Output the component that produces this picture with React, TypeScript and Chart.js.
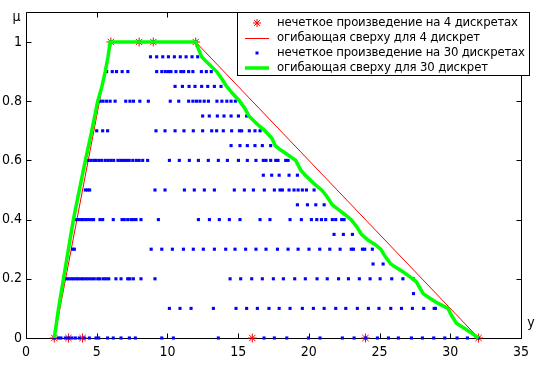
import React, { useEffect, useRef } from "react";
import { Chart, registerables } from "chart.js";

Chart.register(...registerables);

// ---- axes ----
const xTicks = [0, 5, 10, 15, 20, 25, 30, 35];
const yTicks = [0, 0.2, 0.4, 0.6, 0.8, 1];
const yTickLabels = ["0", "0.2", "0.4", "0.6", "0.8", "1"];
const xMin = 0;
const xMax = 35;
const yMin = 0;
const yMax = 1.1;
const yAxisTitle = "μ";
const xAxisTitle = "y";

// ---- legend labels ----
const legendLabels = [
  "нечеткое произведение на 4 дискретах",
  "огибающая сверху для 4 дискрет",
  "нечеткое произведение на 30 дискретах",
  "огибающая сверху для 30 дискрет",
];

// ---- fuzzy product on 4 points (red asterisks) ----
const prod4X = [2, 3, 4, 16, 24, 32, 6, 8, 9, 12];
const prod4Mu = [0, 0, 0, 0, 0, 0, 1, 1, 1, 1];

// ---- upper envelope for 4 points (red line) ----
const env4X = [2, 6, 12, 32];
const env4Mu = [0, 1, 1, 0];

// ---- fuzzy product on 30 points (blue dots), x positions per mu level ----
const dotsMu000 = [2.0, 2.29, 2.47, 2.78, 3.02, 3.25, 3.49, 3.77, 4.12, 4.48, 4.95, 5.14, 5.77, 6.17, 6.72, 7.31, 7.73, 9.6, 10.42, 13.6, 16.83, 17.56, 18.44, 19.97, 20.79, 22.37, 23.2, 24.02, 24.85, 25.63, 26.33, 27.25, 28.03, 28.83, 29.61, 30.48, 31.21, 31.97];
const dotsMu010 = [10.14, 10.89, 11.67, 13.25, 14.85, 15.6, 16.36, 17.18, 17.9, 18.67, 19.54, 20.32, 21.08, 21.9, 22.61, 23.43, 24.21, 24.96, 25.79, 26.55, 27.32, 28.12, 28.86, 28.95];
const dotsMu015 = [27.4];
const dotsMu020 = [2.83, 2.99, 3.18, 3.35, 3.54, 3.7, 3.89, 4.05, 4.24, 4.43, 4.64, 4.83, 5.07, 5.23, 5.47, 5.66, 5.85, 6.36, 6.72, 7.19, 7.35, 7.59, 8.13, 9.12, 14.43, 15.18, 15.96, 16.71, 17.49, 18.2, 19.0, 19.75, 20.58, 21.3, 22.1, 22.8, 23.57, 24.33, 25.04, 25.86, 26.65, 27.38];
const dotsMu025 = [24.54, 25.25];
const dotsMu030 = [3.3, 3.42, 8.85, 9.6, 10.35, 11.13, 11.83, 12.54, 13.32, 14.12, 14.78, 15.53, 16.26, 16.97, 17.78, 18.53, 19.24, 20.01, 20.77, 21.48, 22.21, 23.0, 23.15, 23.79, 23.95, 24.49];
const dotsMu035 = [21.78, 22.44, 23.08];
const dotsMu040 = [3.54, 3.72, 3.89, 4.05, 4.24, 4.43, 4.64, 4.78, 5.23, 5.42, 6.17, 6.79, 6.95, 7.19, 7.42, 7.59, 7.78, 8.13, 9.36, 12.19, 12.97, 13.67, 14.38, 15.13, 16.55, 17.25, 18.67, 19.47, 20.18, 20.56, 20.89, 21.19, 21.66, 21.9, 22.32, 22.49];
const dotsMu045 = [19.19, 19.9, 20.49, 21.08];
const dotsMu050 = [4.2, 4.35, 4.5, 9.12, 9.83, 11.2, 11.9, 12.61, 13.32, 14.73, 15.44, 16.08, 16.85, 17.56, 17.96, 18.13, 18.6, 18.95, 19.24, 19.54, 19.83, 20.37];
const dotsMu055 = [16.78, 17.37, 17.9, 18.6, 19.19];
const dotsMu060 = [4.4, 4.6, 4.8, 4.95, 5.15, 5.35, 5.6, 5.8, 6.0, 6.2, 6.5, 6.7, 6.9, 7.1, 7.3, 7.55, 7.8, 8.0, 8.25, 8.6, 10.14, 10.84, 11.55, 12.19, 12.89, 13.6, 14.24, 15.02, 15.65, 16.26, 16.78, 16.97, 17.3, 17.66, 17.82, 18.36, 18.53];
const dotsMu065 = [14.5, 15.13, 15.65, 16.19, 16.71, 17.3];
const dotsMu070 = [5.0, 5.42, 5.77, 9.19, 9.83, 10.54, 11.17, 11.83, 12.49, 13.13, 13.48, 13.95, 14.54, 15.09, 15.25, 15.79, 16.19, 16.55];
const dotsMu075 = [12.49, 12.96, 13.53, 14.0, 14.5, 15.02, 15.6];
const dotsMu080 = [5.25, 5.45, 5.7, 5.95, 6.3, 7.05, 7.35, 7.6, 8.05, 8.65, 10.2, 10.8, 11.5, 11.8, 12.05, 12.3, 12.6, 12.9, 13.5, 13.85, 14.2, 14.5, 14.8];
const dotsMu085 = [10.54, 11.06, 11.53, 11.95, 12.42, 12.85, 13.32, 13.79];
const dotsMu090 = [5.7, 6.1, 6.4, 6.8, 7.2, 9.24, 9.6, 9.85, 10.07, 10.25, 10.6, 10.95, 11.15, 11.5, 11.8, 12.4, 12.75, 13.1];
const dotsMu095 = [8.8, 9.24, 9.67, 10.07, 10.49, 10.91, 11.32, 11.74, 12.14];
const dotsMu100 = [6, 8, 9, 12];

const dotRows: [number, number[]][] = [
  [0, dotsMu000], [0.1, dotsMu010], [0.15, dotsMu015], [0.2, dotsMu020], [0.25, dotsMu025],
  [0.3, dotsMu030], [0.35, dotsMu035], [0.4, dotsMu040], [0.45, dotsMu045], [0.5, dotsMu050],
  [0.55, dotsMu055], [0.6, dotsMu060], [0.65, dotsMu065], [0.7, dotsMu070], [0.75, dotsMu075],
  [0.8, dotsMu080], [0.85, dotsMu085], [0.9, dotsMu090], [0.95, dotsMu095], [1, dotsMu100],
];

// ---- upper envelope for 30 points (green line) ----
const env30X = [2, 2.3, 2.65, 3.0, 3.35, 3.77, 4.2, 4.65, 5.07, 5.37, 5.6, 5.8, 5.95, 12,
  12.19, 12.42, 12.89, 13.48, 13.84, 14.14, 14.61, 15.11, 15.49, 15.76, 16.31, 16.9, 17.4, 17.62,
  18.01, 18.48, 19.07, 19.43, 19.75, 20.4, 20.9, 21.25, 21.66, 22.14, 22.6, 22.98, 23.4, 23.72,
  24.2, 24.7, 25.08, 25.4, 25.79, 26.2, 26.7, 27.2, 27.6, 28.08, 28.5, 29.14, 29.84, 30.1,
  30.43, 31.02, 31.61, 32];
const env30Mu = [0, 0.1, 0.2, 0.3, 0.4, 0.5, 0.6, 0.7, 0.8, 0.85, 0.9, 0.95, 1, 1,
  0.977, 0.95, 0.927, 0.9, 0.876, 0.853, 0.826, 0.8, 0.775, 0.75, 0.724, 0.7, 0.674, 0.65,
  0.635, 0.62, 0.6, 0.567, 0.55, 0.52, 0.5, 0.48, 0.45, 0.432, 0.415, 0.4, 0.375, 0.35,
  0.33, 0.315, 0.3, 0.275, 0.25, 0.237, 0.222, 0.205, 0.19, 0.15, 0.136, 0.117, 0.1, 0.075,
  0.05, 0.032, 0.013, 0];

const FONT = "'Liberation Sans Narrow', 'Arial Narrow', 'DejaVu Sans Condensed', 'Liberation Sans', Arial, sans-serif";

function pts(xs: number[], ys: number[]) {
  return xs.map((x, i) => ({ x, y: ys[i] }));
}

function spacedText(ctx: CanvasRenderingContext2D, text: string, x: number, y: number, target: number) {
  const chars = Array.from(text);
  const widths = chars.map((c) => ctx.measureText(c).width);
  const total = widths.reduce((a, b) => a + b, 0);
  const extra = chars.length > 1 ? (target - total) / (chars.length - 1) : 0;
  let cx = x;
  chars.forEach((c, i) => {
    ctx.fillText(c, cx, y);
    cx += widths[i] + extra;
  });
}

const framePlugin = {
  id: "matlabFrame",
  beforeDatasetsDraw(chart: any) {
    const { ctx, chartArea: a, scales } = chart;
    const xs = scales.x;
    const ys = scales.y;
    ctx.save();
    ctx.strokeStyle = "#000";
    ctx.lineWidth = 1;
    const L = Math.round(a.left) + 0.5;
    const R = Math.round(a.right) + 0.5;
    const T = Math.round(a.top) + 0.5;
    const B = Math.round(a.bottom) + 0.5;
    ctx.beginPath();
    ctx.rect(L, T, R - L, B - T);
    const tl = 5;
    xTicks.forEach((v) => {
      const px = Math.round(xs.getPixelForValue(v)) + 0.5;
      ctx.moveTo(px, B);
      ctx.lineTo(px, B - tl);
      ctx.moveTo(px, T);
      ctx.lineTo(px, T + tl);
    });
    yTicks.forEach((v) => {
      const py = Math.round(ys.getPixelForValue(v)) + 0.5;
      ctx.moveTo(L, py);
      ctx.lineTo(L + tl, py);
      ctx.moveTo(R, py);
      ctx.lineTo(R - tl, py);
    });
    ctx.stroke();
    ctx.fillStyle = "#000";
    ctx.font = "14px " + FONT;
    ctx.textAlign = "center";
    ctx.textBaseline = "middle";
    ctx.fillText(yAxisTitle, 16.5, 17);
    ctx.fillText(xAxisTitle, 531, 323);
    ctx.restore();
  },
};

const legendPlugin = {
  id: "matlabLegend",
  afterDraw(chart: any) {
    const ctx: CanvasRenderingContext2D = chart.ctx;
    ctx.save();
    const bx = 237.5, by = 12.5, bw = 292, bh = 63;
    ctx.fillStyle = "#fff";
    ctx.fillRect(bx, by, bw, bh);
    ctx.strokeStyle = "#000";
    ctx.lineWidth = 1;
    ctx.strokeRect(bx, by, bw, bh);
    const rows = [23, 38, 53, 68];
    const targets = [241, 203, 248, 211];
    // row 0: red asterisk
    ctx.strokeStyle = "#ff0000";
    ctx.lineWidth = 1;
    const sx = 257, sy = rows[0], r = 4;
    ctx.beginPath();
    ctx.moveTo(sx - r, sy); ctx.lineTo(sx + r, sy);
    ctx.moveTo(sx, sy - r); ctx.lineTo(sx, sy + r);
    const d = r * 0.72;
    ctx.moveTo(sx - d, sy - d); ctx.lineTo(sx + d, sy + d);
    ctx.moveTo(sx - d, sy + d); ctx.lineTo(sx + d, sy - d);
    ctx.stroke();
    // row 1: red line
    ctx.beginPath();
    ctx.moveTo(245, rows[1] + 0.5); ctx.lineTo(269, rows[1] + 0.5);
    ctx.stroke();
    // row 2: blue dot
    ctx.fillStyle = "#0000ff";
    ctx.fillRect(255.5, rows[2] - 1.5, 3, 3);
    // row 3: green thick line
    ctx.strokeStyle = "#00ff00";
    ctx.lineWidth = 3.5;
    ctx.beginPath();
    ctx.moveTo(245, rows[3]); ctx.lineTo(269, rows[3]);
    ctx.stroke();
    // texts
    ctx.fillStyle = "#000";
    ctx.font = "13px " + FONT;
    ctx.textAlign = "left";
    ctx.textBaseline = "middle";
    legendLabels.forEach((t, i) => spacedText(ctx, t, 277, rows[i], targets[i]));
    ctx.restore();
  },
};

export default function App() {
  const ref = useRef<HTMLCanvasElement | null>(null);
  useEffect(() => {
    if (!ref.current) return;
    const dotData: { x: number; y: number }[] = [];
    dotRows.forEach(([mu, xs]) => xs.forEach((x) => dotData.push({ x, y: mu })));
    const chart = new Chart(ref.current, {
      type: "scatter",
      data: {
        datasets: [
          {
            label: legendLabels[3],
            data: pts(env30X, env30Mu),
            showLine: true,
            borderColor: "#00ff00",
            borderWidth: 3.5,
            pointRadius: 0,
            order: 1,
          } as any,
          {
            label: legendLabels[2],
            data: dotData,
            showLine: false,
            pointStyle: "rect",
            pointRadius: 2.2,
            pointBorderWidth: 0,
            backgroundColor: "#0000ff",
            borderColor: "#0000ff",
            order: 2,
          },
          {
            label: legendLabels[1],
            data: pts(env4X, env4Mu),
            showLine: true,
            borderColor: "#ff0000",
            borderWidth: 1,
            pointRadius: 0,
            order: 3,
          },
          {
            label: legendLabels[0],
            data: pts(prod4X, prod4Mu),
            showLine: false,
            pointStyle: "star",
            pointRadius: 4.5,
            pointBorderWidth: 1,
            borderColor: "#ff0000",
            backgroundColor: "#ff0000",
            order: 4,
          },
        ],
      },
      options: {
        animation: false,
        responsive: false,
        devicePixelRatio: 1,
        clip: false,
        layout: { padding: { left: 0, right: 24, top: 11, bottom: 0 } },
        plugins: { legend: { display: false }, tooltip: { enabled: false } },
        scales: {
          x: {
            type: "linear",
            min: xMin,
            max: xMax,
            afterFit: (s: any) => { s.height = 27; },
            afterBuildTicks: (s: any) => { s.ticks = xTicks.map((v) => ({ value: v })); },
            grid: { display: false, drawTicks: false },
            border: { display: false },
            ticks: {
              color: "#000",
              padding: 6,
              maxRotation: 0,
              autoSkip: false,
              font: { family: FONT, size: 14 },
              callback: (v: any) => String(v),
            },
          },
          y: {
            type: "linear",
            min: yMin,
            max: yMax,
            afterFit: (s: any) => { s.width = 26; },
            afterBuildTicks: (s: any) => { s.ticks = yTicks.map((v) => ({ value: v })); },
            grid: { display: false, drawTicks: false },
            border: { display: false },
            ticks: {
              color: "#000",
              padding: 4,
              autoSkip: false,
              font: { family: FONT, size: 14 },
              callback: (v: any) => {
                const i = yTicks.findIndex((t) => Math.abs(t - Number(v)) < 1e-9);
                return i >= 0 ? yTickLabels[i] : "";
              },
            },
          },
        },
      } as any,
      plugins: [framePlugin, legendPlugin],
    });
    return () => chart.destroy();
  }, []);
  return (
    <div style={{ position: "absolute", left: 0, top: 0, width: 545, height: 365, background: "#fff" }}>
      <canvas ref={ref} width={545} height={365} style={{ display: "block", width: 545, height: 365 }} />
    </div>
  );
}
